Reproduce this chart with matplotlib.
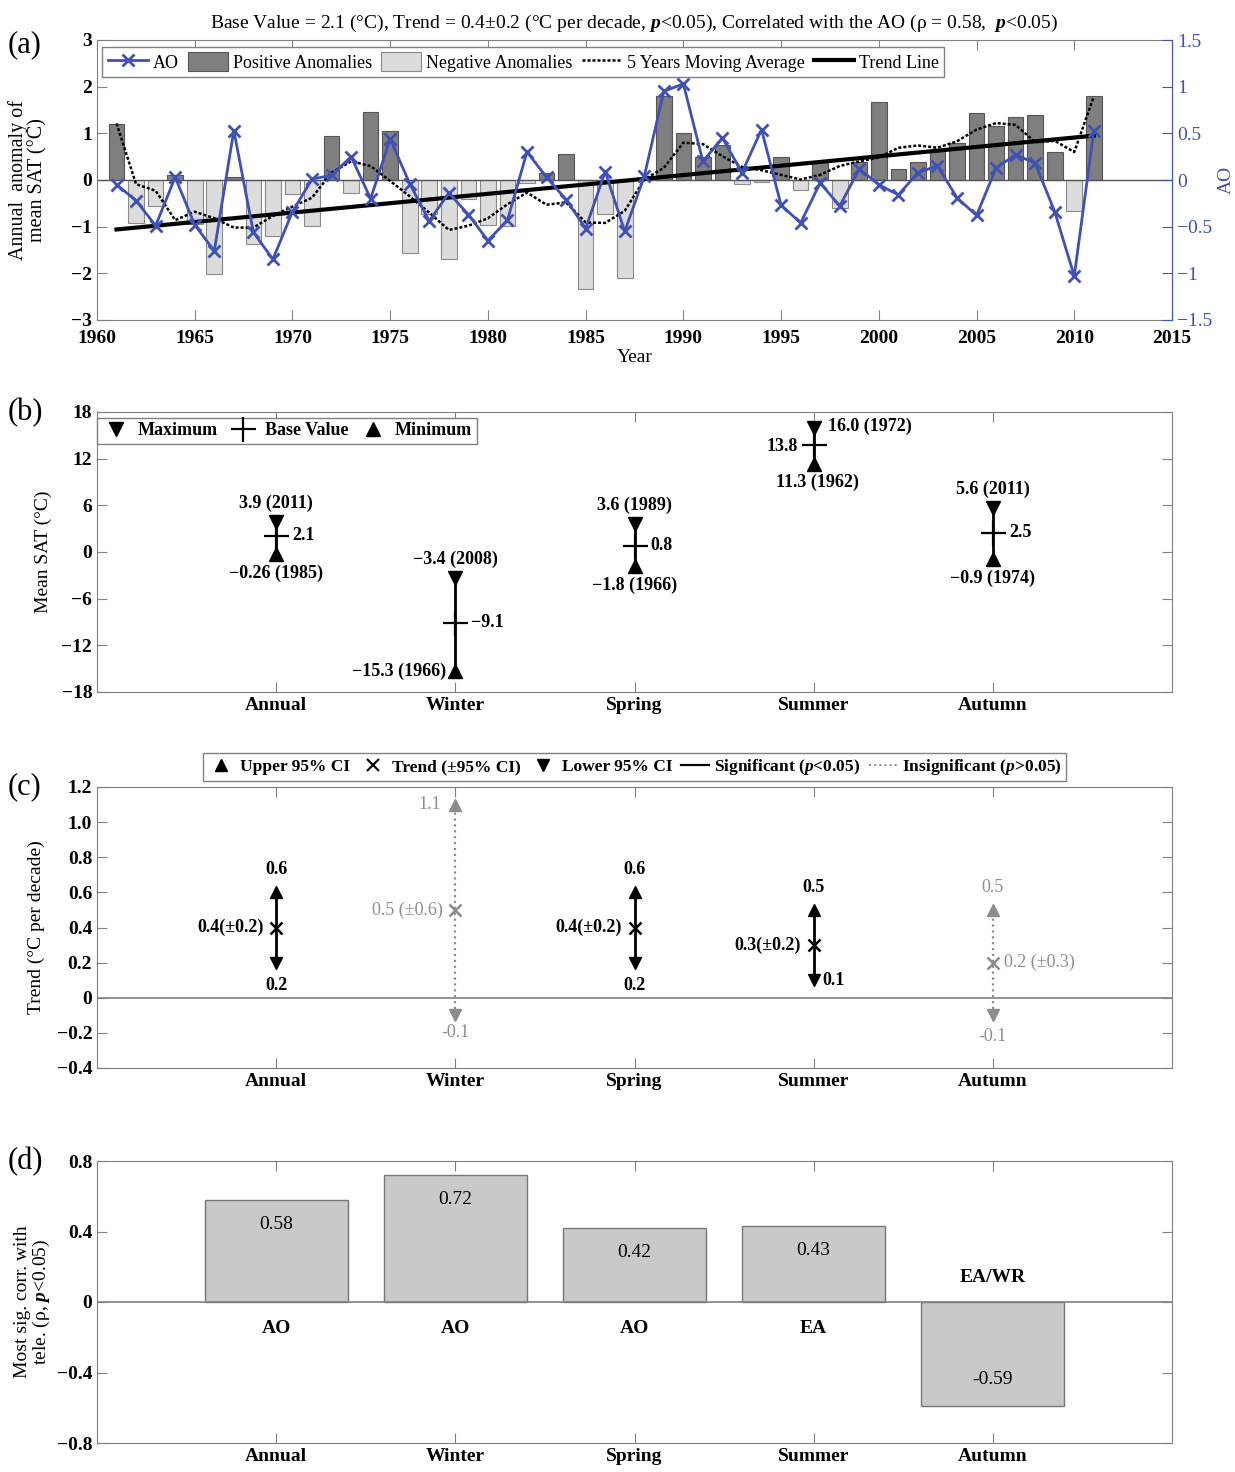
import numpy as np
import matplotlib
matplotlib.use('Agg')
import matplotlib.pyplot as plt
from matplotlib.lines import Line2D

plt.rcParams['font.family'] = ['Liberation Serif', 'DejaVu Serif']
plt.rcParams['font.weight'] = 'bold'
plt.rcParams['mathtext.fontset'] = 'custom'
plt.rcParams['mathtext.rm'] = 'Liberation Serif'
plt.rcParams['mathtext.it'] = 'Liberation Serif:italic'
plt.rcParams['mathtext.bf'] = 'Liberation Serif:bold'

# ---- data: panel (a) ----
years = list(range(1961, 2012))
anom = [1.21, -0.93, -0.55, 0.10, -0.95, -2.01, 0.06, -1.38, -1.21, -0.30,
        -0.98, 0.95, -0.28, 1.45, 1.04, -1.56, -0.73, -1.70, -0.41, -0.96,
        -0.98, -0.06, 0.14, 0.56, -2.33, -0.73, -2.10, 0.05, 1.79, 1.01,
        0.49, 0.76, -0.09, -0.04, 0.50, -0.21, 0.38, -0.61, 0.38, 1.67,
        0.23, 0.38, 0.63, 0.79, 1.44, 1.15, 1.35, 1.39, 0.60, -0.66, 1.79]
ma5 = [1.21, -0.09, -0.23, -0.86, -0.68, -0.82, -1.02, -1.02, -0.77, -0.57,
       -0.38, 0.16, 0.40, 0.30, -0.02, -0.35, -0.70, -1.07, -0.98, -0.82,
       -0.52, -0.27, -0.53, -0.48, -0.91, -0.92, -0.66, 0.01, 0.26, 0.80,
       0.77, 0.51, 0.28, 0.21, 0.11, 0.01, 0.11, 0.30, 0.40, 0.48,
       0.69, 0.74, 0.69, 0.83, 1.08, 1.22, 1.18, 0.81, 0.84, 0.60, 1.79]
ao = [-0.05, -0.22, -0.49, 0.03, -0.48, -0.76, 0.53, -0.56, -0.85, -0.34,
      0.01, 0.05, 0.25, -0.20, 0.44, -0.04, -0.44, -0.14, -0.37, -0.65,
      -0.43, 0.30, 0.03, -0.21, -0.52, 0.09, -0.55, 0.04, 0.95, 1.03,
      0.20, 0.45, 0.08, 0.54, -0.27, -0.46, -0.03, -0.28, 0.12, -0.05,
      -0.16, 0.08, 0.15, -0.19, -0.38, 0.13, 0.27, 0.18, -0.34, -1.03, 0.53]
trend_x = [1961, 2011]
trend_y = [-1.06, 0.95]

# ---- data: panel (b) ----
cats = ['Annual', 'Winter', 'Spring', 'Summer', 'Autumn']
sat_max = [3.9, -3.4, 3.6, 16.0, 5.6]
sat_base = [2.1, -9.1, 0.8, 13.8, 2.5]
sat_min = [-0.26, -15.3, -1.8, 11.3, -0.9]
max_lbl = ['3.9 (2011)', '\u22123.4 (2008)', '3.6 (1989)', '16.0 (1972)', '5.6 (2011)']
base_lbl = ['2.1', '\u22129.1', '0.8', '13.8', '2.5']
min_lbl = ['\u22120.26 (1985)', '\u221215.3 (1966)', '\u22121.8 (1966)', '11.3 (1962)', '\u22120.9 (1974)']

# ---- data: panel (c) ----
trend = [0.4, 0.5, 0.4, 0.3, 0.2]
ci_up = [0.6, 1.1, 0.6, 0.5, 0.5]
ci_lo = [0.2, -0.1, 0.2, 0.1, -0.1]
signif = [True, False, True, True, False]
trend_lbl = ['0.4(\u00b10.2)', '0.5 (\u00b10.6)', '0.4(\u00b10.2)', '0.3(\u00b10.2)', '0.2 (\u00b10.3)']

# ---- data: panel (d) ----
corr = [0.58, 0.72, 0.42, 0.43, -0.59]
tele = ['AO', 'AO', 'AO', 'EA', 'EA/WR']

GRAY = '#808080'
BLUE = '#3f51b5'
LGRAY = '#8c8c8c'
W, H = 1235, 1472


def box(x0, y0, x1, y1):
    return [x0 / W, 1 - y1 / H, (x1 - x0) / W, (y1 - y0) / H]


def style(ax):
    for s in ax.spines.values():
        s.set_color(GRAY)
    ax.tick_params(direction='in', length=7, color=GRAY, labelcolor='black',
                   labelsize=14, top=True, right=True)


fig = plt.figure(figsize=(12.35, 14.72), dpi=100)

# ================= (a) =================
axa = fig.add_axes(box(97, 40, 1172, 320))
style(axa)
axa.tick_params(right=False)
axa.tick_params(axis='x', pad=7)
pos_x = [y for y, v in zip(years, anom) if v > 0]
pos_v = [v for v in anom if v > 0]
neg_x = [y for y, v in zip(years, anom) if v <= 0]
neg_v = [v for v in anom if v <= 0]
bp = axa.bar(pos_x, pos_v, width=0.8, color='#7f7f7f', edgecolor='#555555', lw=0.8)
bn = axa.bar(neg_x, neg_v, width=0.8, color='#dcdcdc', edgecolor='#8a8a8a', lw=0.8)
axa.axhline(0, color='#555555', lw=1)
lma, = axa.plot(years, ma5, color='black', ls=(0, (1.2, 0.8)), lw=1.8)
ltr, = axa.plot(trend_x, trend_y, color='black', lw=3)
axa.set_xlim(1960, 2015)
axa.set_ylim(-3, 3)
axa.set_xticks(range(1960, 2016, 5))
axa.set_yticks(range(-3, 4))
axa.set_xlabel('Year', fontsize=14, labelpad=2)
axa.set_ylabel('Annual  anomaly of\nmean SAT (\u00b0C)', fontsize=14.5, linespacing=1.0)
axa.yaxis.set_label_coords(-0.046, 0.5)
axa.set_title('Base Value = 2.1 (\u00b0C), Trend = 0.4\u00b10.2 (\u00b0C per decade, $p$<0.05), '
              'Correlated with the AO (\u03c1 = 0.58,  $p$<0.05)',
              fontsize=14, fontweight='normal', pad=9)

ax2 = axa.twinx()
lao, = ax2.plot(years, ao, color=BLUE, marker='x', ms=9, mew=2, lw=2)
ax2.set_ylim(-1.5, 1.5)
ax2.set_yticks([-1.5, -1, -0.5, 0, 0.5, 1, 1.5])
ax2.set_yticklabels(['\u22121.5', '\u22121', '\u22120.5', '0', '0.5', '1', '1.5'],
                    fontweight='normal')
for s in ['left', 'top', 'bottom']:
    ax2.spines[s].set_visible(False)
ax2.spines['right'].set_color(BLUE)
ax2.tick_params(direction='in', length=7, color=BLUE, labelcolor=BLUE, labelsize=14)
ax2.set_ylabel('AO', color=BLUE, fontsize=14, fontweight='normal', labelpad=4)
ax2.legend([lao, bp, bn, lma, ltr],
           ['AO', 'Positive Anomalies', 'Negative Anomalies', '5 Years Moving Average', 'Trend Line'],
           loc='upper left', bbox_to_anchor=(0.005, 0.975), ncol=5, fancybox=False,
           edgecolor=GRAY, framealpha=1, borderaxespad=0, borderpad=0.3,
           handlelength=2.2, handleheight=1.2, handletextpad=0.3, columnspacing=0.5,
           prop={'size': 13, 'weight': 'normal'})

xc = np.arange(1, 6)

# ================= (b) =================
axb = fig.add_axes(box(97, 412, 1172, 692))
style(axb)
for i in range(5):
    axb.plot([xc[i], xc[i]], [sat_min[i], sat_max[i]], color='black', lw=2)
hmax, = axb.plot(xc, sat_max, 'v', color='black', ms=10, ls='none')
hmin, = axb.plot(xc, sat_min, '^', color='black', ms=10, ls='none')
hbase, = axb.plot(xc, sat_base, '+', color='black', ms=18, mew=1.6, ls='none')
fs = 13
for i in range(5):
    x = xc[i]
    if cats[i] == 'Summer':
        axb.text(x + 0.08, sat_max[i] + 0.2, max_lbl[i], ha='left', va='center', fontsize=fs)
        axb.text(x - 0.09, sat_base[i] - 0.2, base_lbl[i], ha='right', va='center', fontsize=fs)
        axb.text(x + 0.02, sat_min[i] - 2.4, min_lbl[i], ha='center', va='center', fontsize=fs)
    elif cats[i] == 'Winter':
        axb.text(x, sat_max[i] + 2.4, max_lbl[i], ha='center', va='center', fontsize=fs)
        axb.text(x + 0.09, sat_base[i], base_lbl[i], ha='left', va='center', fontsize=fs)
        axb.text(x - 0.05, sat_min[i] - 0.1, min_lbl[i], ha='right', va='center', fontsize=fs)
    else:
        axb.text(x, sat_max[i] + 2.4, max_lbl[i], ha='center', va='center', fontsize=fs)
        axb.text(x + 0.09, sat_base[i], base_lbl[i], ha='left', va='center', fontsize=fs)
        axb.text(x, sat_min[i] - 2.5, min_lbl[i], ha='center', va='center', fontsize=fs)
axb.set_xlim(0, 6)
axb.set_ylim(-18, 18)
axb.set_yticks(range(-18, 19, 6))
axb.set_xticks(xc)
axb.set_xticklabels(cats)
axb.set_ylabel('Mean SAT (\u00b0C)', fontsize=14)
axb.yaxis.set_label_coords(-0.042, 0.5)
axb.legend([hmax, hbase, hmin], ['Maximum', 'Base Value', 'Minimum'],
           loc='upper left', bbox_to_anchor=(0, 0.98), ncol=3, fancybox=False,
           edgecolor=GRAY, framealpha=1, borderaxespad=0, borderpad=0.25,
           handlelength=1.6, handletextpad=0.4, columnspacing=0.6,
           prop={'size': 13, 'weight': 'bold'})

# ================= (c) =================
axc = fig.add_axes(box(97, 787, 1172, 1068))
style(axc)
axc.axhline(0, color=GRAY, lw=1.2)
for i in range(5):
    x = xc[i]
    if signif[i]:
        c, ls, tw, tc = 'black', '-', 'bold', 'black'
    else:
        c, ls, tw, tc = LGRAY, ':', 'normal', '#8f8f8f'
    axc.plot([x, x], [ci_lo[i], ci_up[i]], color=c, ls=ls, lw=2 if signif[i] else 1.6)
    axc.plot(x, ci_up[i], '^', color=c, ms=9)
    axc.plot(x, ci_lo[i], 'v', color=c, ms=9)
    axc.plot(x, trend[i], 'x', color=c, ms=9, mew=1.8)
    if cats[i] == 'Winter':
        axc.text(x - 0.08, ci_up[i], f'{ci_up[i]:.1f}', ha='right', va='center', fontsize=fs, color=tc, fontweight=tw)
        axc.text(x - 0.07, trend[i], trend_lbl[i], ha='right', va='center', fontsize=fs, color=tc, fontweight=tw)
        axc.text(x, ci_lo[i] - 0.1, f'{ci_lo[i]:.1f}', ha='center', va='center', fontsize=fs, color=tc, fontweight=tw)
    elif cats[i] == 'Autumn':
        axc.text(x, ci_up[i] + 0.13, f'{ci_up[i]:.1f}', ha='center', va='center', fontsize=fs, color=tc, fontweight=tw)
        axc.text(x + 0.06, trend[i], trend_lbl[i], ha='left', va='center', fontsize=fs, color=tc, fontweight=tw)
        axc.text(x, ci_lo[i] - 0.12, f'{ci_lo[i]:.1f}', ha='center', va='center', fontsize=fs, color=tc, fontweight=tw)
    elif cats[i] == 'Summer':
        axc.text(x, ci_up[i] + 0.13, f'{ci_up[i]:.1f}', ha='center', va='center', fontsize=fs, color=tc, fontweight=tw)
        axc.text(x - 0.07, trend[i], trend_lbl[i], ha='right', va='center', fontsize=fs, color=tc, fontweight=tw)
        axc.text(x + 0.05, ci_lo[i], f'{ci_lo[i]:.1f}', ha='left', va='center', fontsize=fs, color=tc, fontweight=tw)
    else:
        axc.text(x, ci_up[i] + 0.13, f'{ci_up[i]:.1f}', ha='center', va='center', fontsize=fs, color=tc, fontweight=tw)
        axc.text(x - 0.07, trend[i], trend_lbl[i], ha='right', va='center', fontsize=fs, color=tc, fontweight=tw)
        axc.text(x, ci_lo[i] - 0.13, f'{ci_lo[i]:.1f}', ha='center', va='center', fontsize=fs, color=tc, fontweight=tw)
axc.set_xlim(0, 6)
axc.set_ylim(-0.4, 1.2)
cticks = [-0.4, -0.2, 0, 0.2, 0.4, 0.6, 0.8, 1.0, 1.2]
axc.set_yticks(cticks)
axc.set_yticklabels(['0' if t == 0 else f'{t:.1f}'.replace('-', '\u2212') for t in cticks])
axc.set_xticks(xc)
axc.set_xticklabels(cats)
axc.set_ylabel('Trend (\u00b0C per decade)', fontsize=14)
axc.yaxis.set_label_coords(-0.048, 0.5)
hc = [Line2D([], [], marker='^', color='black', ls='none', ms=8),
      Line2D([], [], marker='x', color='black', ls='none', ms=8, mew=1.5),
      Line2D([], [], marker='v', color='black', ls='none', ms=8),
      Line2D([], [], color='black', lw=1.6),
      Line2D([], [], color=LGRAY, lw=1.4, ls=':')]
axc.legend(hc, ['Upper 95% CI', 'Trend (\u00b195% CI)', 'Lower 95% CI',
                'Significant ($p$<0.05)', 'Insignificant ($p$>0.05)'],
           loc='lower center', bbox_to_anchor=(0.5, 1.02), ncol=5, fancybox=False,
           edgecolor=GRAY, framealpha=1, borderaxespad=0, borderpad=0.25,
           handlelength=1.6, handletextpad=0.3, columnspacing=0.5,
           prop={'size': 12.5, 'weight': 'bold'})

# ================= (d) =================
axd = fig.add_axes(box(97, 1161, 1172, 1443))
style(axd)
axd.bar(xc, corr, width=0.8, color='#c9c9c9', edgecolor='#777777', lw=1)
axd.axhline(0, color=GRAY, lw=1.2)
for i in range(5):
    if corr[i] > 0:
        axd.text(xc[i], corr[i] - 0.14, f'{corr[i]:.2f}', ha='center', va='center',
                 fontsize=14, fontweight='normal')
        axd.text(xc[i], -0.15, tele[i], ha='center', va='center', fontsize=14)
    else:
        axd.text(xc[i], corr[i] + 0.15, f'{corr[i]:.2f}', ha='center', va='center',
                 fontsize=14, fontweight='normal')
        axd.text(xc[i], 0.14, tele[i], ha='center', va='center', fontsize=14)
axd.set_xlim(0, 6)
axd.set_ylim(-0.8, 0.8)
dticks = [-0.8, -0.4, 0, 0.4, 0.8]
axd.set_yticks(dticks)
axd.set_yticklabels(['0' if t == 0 else f'{t:.1f}'.replace('-', '\u2212') for t in dticks])
axd.set_xticks(xc)
axd.set_xticklabels(cats)
axd.set_ylabel('Most sig. corr. with\ntele. (\u03c1, $p$<0.05)', fontsize=14, linespacing=1.0)
axd.yaxis.set_label_coords(-0.042, 0.5)

# panel letters
for lab, yy in [('(a)', 45), ('(b)', 413), ('(c)', 787), ('(d)', 1162)]:
    fig.text(8 / W, 1 - yy / H, lab, fontsize=22, fontweight='normal', va='center', ha='left')

fig.savefig('out.png', dpi=100)
